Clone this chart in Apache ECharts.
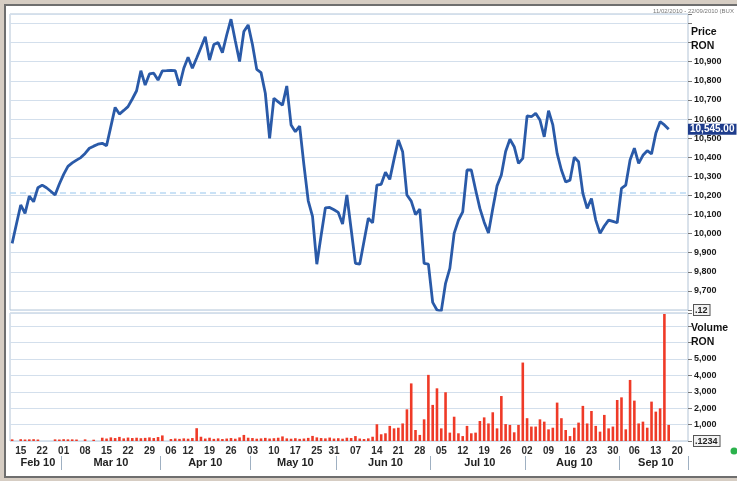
<!DOCTYPE html>
<html><head><meta charset="utf-8">
<script src="https://cdn.jsdelivr.net/npm/echarts@6/dist/echarts.min.js"></script>
<style>
html,body{margin:0;padding:0;background:#d6cdc3;overflow:hidden;}
#frame{position:absolute;left:4px;top:4px;width:740px;height:470px;background:#fff;border:2px solid #6e6e6e;border-right:none;}
#chart{position:absolute;left:0;top:0;width:737px;height:481px;}
</style></head><body>
<div id="frame"></div><div id="chart"></div>
<script>
// ---- data ----
const startDate = '2010-02-11';
const endDate = '2010-09-22';
const holidays = ['2010-04-05', '2010-05-24'];
const monthNames = ['Jan','Feb','Mar','Apr','May','Jun','Jul','Aug','Sep','Oct','Nov','Dec'];

const price = [
  9949,10050,10150,10106,10197,10167,10240,10254,10240,10222,
  10202,10260,10310,10352,10370,10385,10398,10420,10447,10458,
  10468,10473,10460,10560,10661,10626,10645,10665,10705,10748,
  10853,10778,10836,10840,10804,10852,10853,10855,10853,10775,
  10866,10923,10866,10920,10975,11031,10909,10990,11000,10948,
  11040,11123,11010,10901,11058,11093,10990,10860,10843,10735,
  10499,10709,10690,10673,10773,10569,10534,10563,10359,10172,
  10090,9840,9990,10135,10137,10125,10111,10050,10202,10023,
  9844,9840,9960,10080,10057,10254,10258,10321,10284,10390,
  10490,10429,10202,10170,10100,10128,9844,9840,9640,9600,
  9594,9740,9818,10001,10070,10114,10333,10333,10230,10132,
  10060,10003,10130,10250,10307,10430,10494,10455,10368,10394,
  10616,10612,10630,10595,10507,10644,10569,10420,10333,10270,
  10280,10400,10376,10211,10132,10184,10071,10001,10040,10071,
  10064,10057,10237,10254,10385,10447,10368,10410,10434,10417,
  10525,10586,10569,10546
];

const volume = [
  100,0,110,90,100,110,90,0,0,0,
  100,90,110,100,100,90,0,100,0,80,
  0,200,150,220,180,250,160,210,180,200,
  170,190,220,180,240,340,0,120,150,130,
  160,140,180,780,260,150,200,130,160,120,
  150,180,140,220,370,200,180,140,160,190,
  150,170,200,280,160,140,170,130,150,190,
  310,220,180,160,210,150,170,140,200,180,
  300,150,120,160,260,1020,410,470,920,770,
  810,1070,1930,3510,670,370,1320,4030,2200,3210,
  770,2970,510,1480,470,300,920,470,510,1220,
  1440,1070,1750,770,2740,1030,980,530,980,4780,
  1390,880,880,1320,1180,710,810,2340,1390,670,
  300,810,1120,2140,1070,1830,920,570,1590,770,
  880,2500,2660,710,3720,2460,1070,1180,810,2400,
  1790,1990,7740,980
];

const refLevel = 10212;
const lastPriceText = '10,545.00';
const priceMin = 9600, priceMax = 11150, priceLabelMin = 9700, priceLabelMax = 10900;
const volMax = 7800, volLabelMax = 5000;
const lastPrice = price[price.length - 1];

// ---- trading-day categories ----
const dates = [];
for (let d = new Date(startDate + 'T00:00:00Z'); d <= new Date(endDate + 'T00:00:00Z'); d.setUTCDate(d.getUTCDate() + 1)) {
  const wd = d.getUTCDay();
  const s = d.toISOString().slice(0, 10);
  if (wd === 0 || wd === 6 || holidays.includes(s)) continue;
  dates.push(s);
}
const weekStart = new Set();
const monthStart = new Set();
const monthMid = new Map();
let mFirst = 0;
for (let i = 0; i < dates.length; i++) {
  if (i > 0) {
    const gap = (new Date(dates[i]) - new Date(dates[i - 1])) / 86400000;
    if (gap > 1) weekStart.add(i);
    if (dates[i].slice(5, 7) !== dates[i - 1].slice(5, 7)) {
      monthStart.add(i);
      const mid = Math.round((mFirst + i - 1) / 2);
      monthMid.set(mid, monthNames[+dates[mid].slice(5, 7) - 1] + ' ' + dates[mid].slice(2, 4));
      mFirst = i;
    }
  }
}
{
  const mid = Math.round((mFirst + dates.length - 1) / 2);
  monthMid.set(mid, monthNames[+dates[mid].slice(5, 7) - 1] + ' ' + dates[mid].slice(2, 4));
}

const fmt = v => Math.round(v).toString().replace(/\B(?=(\d{3})+(?!\d))/g, ',');
const boxStyle = {borderColor: '#555', borderWidth: 1, backgroundColor: '#f2f2f2', padding: [1, 2, 0, 1], fontSize: 9, fontWeight: 'bold', color: '#222'};

const chart = echarts.init(document.getElementById('chart'), null, {renderer: 'canvas'});
chart.setOption({
  animation: false,
  textStyle: {fontFamily: 'Liberation Sans, Arial, sans-serif'},
  title: [
    {text: '11/02/2010 - 22/09/2010 (BUX', left: 653, top: 8, padding: 0, textStyle: {fontSize: 6, color: '#777', fontWeight: 'normal'}},
    {text: 'Price\nRON', left: 691, top: 25, padding: 0, textStyle: {fontSize: 10.5, fontWeight: 'bold', color: '#111', lineHeight: 14}},
    {text: 'Volume\nRON', left: 691, top: 321, padding: 0, textStyle: {fontSize: 10.5, fontWeight: 'bold', color: '#111', lineHeight: 14}}
  ],
  grid: [
    {left: 10, top: 14, width: 678, height: 296, show: true, borderColor: '#b3c4d6', borderWidth: 1},
    {left: 10, top: 313, width: 678, height: 128, show: true, borderColor: '#b3c4d6', borderWidth: 1}
  ],
  xAxis: [
    {type: 'category', gridIndex: 0, data: dates, boundaryGap: true,
     axisLine: {show: false}, axisTick: {show: false}, axisLabel: {show: false}},
    {type: 'category', gridIndex: 1, data: dates, boundaryGap: true,
     axisLine: {show: false}, axisTick: {show: false},
     axisLabel: {interval: (i) => weekStart.has(i), formatter: (v) => v.slice(8, 10),
                 fontSize: 10, fontWeight: 'bold', color: '#2b2b2b', margin: 5}},
    {type: 'category', gridIndex: 1, data: dates, boundaryGap: true, position: 'bottom', offset: 15,
     axisLine: {show: false},
     axisTick: {show: true, interval: (i) => monthStart.has(i), length: 14, lineStyle: {color: '#9fb0c2', width: 1}},
     axisLabel: {interval: (i) => monthMid.has(i), formatter: (v, i) => monthMid.get(i) || '',
                 fontSize: 11, fontWeight: 'bold', color: '#222', margin: 1}}
  ],
  yAxis: [
    {type: 'value', gridIndex: 0, position: 'right', min: priceMin, max: priceMax, interval: 100,
     axisLine: {show: false},
     axisTick: {show: true, length: 4, lineStyle: {color: '#777'}},
     splitLine: {lineStyle: {color: '#d3dfec', width: 1}},
     axisLabel: {margin: 6, fontSize: 9, fontWeight: 'bold', color: '#1a1a1a',
                 formatter: v => v === priceMin ? '{box|.12}' : (v >= priceLabelMin && v <= priceLabelMax ? fmt(v) : ''),
                 rich: {box: boxStyle}}},
    {type: 'value', gridIndex: 1, position: 'right', min: 0, max: volMax, interval: 1000,
     axisLine: {show: false},
     axisTick: {show: true, length: 4, lineStyle: {color: '#777'}},
     splitLine: {lineStyle: {color: '#d3dfec', width: 1}},
     axisLabel: {margin: 6, fontSize: 9, fontWeight: 'bold', color: '#1a1a1a',
                 formatter: v => v === 0 ? '{box|.1234}' : (v <= volLabelMax ? fmt(v) : ''),
                 rich: {box: boxStyle}}}
  ],
  series: [
    {type: 'line', xAxisIndex: 0, yAxisIndex: 0, data: price, symbol: 'none', showSymbol: false,
     lineStyle: {color: '#2a5aa8', width: 2.8}, itemStyle: {color: '#2a5aa8'}, z: 5,
     markLine: {silent: true, symbol: 'none', animation: false,
       data: [
         {yAxis: refLevel, lineStyle: {color: '#b9d9f3', type: [6, 4], width: 1.5, opacity: 1}, label: {show: false}},
         {yAxis: lastPrice, lineStyle: {color: 'rgba(0,0,0,0)', width: 1, opacity: 1},
          label: {show: true, position: 'end', distance: 0, formatter: lastPriceText, opacity: 1,
                  backgroundColor: '#1e3c8c', color: '#fff', fontSize: 10, fontWeight: 'bold', padding: [1, 2, 0, 2]}}
       ]}},
    {type: 'bar', xAxisIndex: 1, yAxisIndex: 1, data: volume, barWidth: 2.6,
     itemStyle: {color: '#ef3a27'}}
  ],
  graphic: [
    {type: 'circle', shape: {cx: 734, cy: 451, r: 3.5}, style: {fill: '#2bb24c'}}
  ]
});
</script>
</body></html>
